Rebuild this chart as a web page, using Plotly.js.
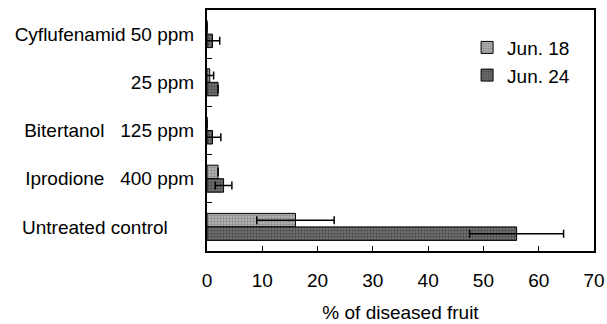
<!DOCTYPE html>
<html>
<head>
<meta charset="utf-8">
<script src="https://cdn.plot.ly/plotly-3.0.1.min.js"></script>
<style>html,body{margin:0;padding:0;background:#fff;}#chart{width:607px;height:324px;}</style>
</head>
<body>
<div id="chart"></div>
<script>
const categories = ["Cyflufenamid 50 ppm", "25 ppm", "Bitertanol\u00a0\u00a0\u00a0125 ppm", "Iprodione\u00a0\u00a0\u00a0400 ppm", "Untreated control\u00a0\u00a0\u00a0\u00a0\u00a0"];
const seriesNames = ["Jun. 18", "Jun. 24"];
const jun18 = [0, 0.5, 0, 2, 16];
const jun18Err = [null, 0.7, null, null, 7];
const jun24 = [1, 2, 1, 3, 56];
const jun24Err = [1.3, null, 1.5, 1.5, 8.5];
const xTicks = [0, 10, 20, 30, 40, 50, 60, 70];

const font = {family: "Liberation Sans, Arial, sans-serif", size: 19, color: "#000"};

function barTrace(name, x, err, bg, fg) {
  return {
    type: "bar", orientation: "h", name: name, x: x, y: categories,
    marker: {color: bg, line: {color: "#000", width: 1},
      pattern: {shape: ".", fgcolor: fg, bgcolor: bg, size: 3, solidity: 0.5}},
    error_x: {type: "data", array: err, visible: true, color: "#000", thickness: 1.5, width: 4}
  };
}

const data = [
  barTrace(seriesNames[0], jun18, jun18Err, "#bdbdbd", "#8a8a8a"),
  barTrace(seriesNames[1], jun24, jun24Err, "#7a7a7a", "#4a4a4a")
];

const layout = {
  width: 607, height: 324,
  margin: {l: 207, r: 13, t: 10, b: 73},
  paper_bgcolor: "#fff", plot_bgcolor: "#fff",
  font: font,
  barmode: "group", bargap: 0.44, bargroupgap: 0,
  showlegend: true,
  legend: {x: 0.672, y: 0.923, xanchor: "left", yanchor: "top", bgcolor: "rgba(0,0,0,0)",
    font: font, tracegroupgap: 0, itemwidth: 30},
  xaxis: {
    range: [0, 70], tickvals: xTicks, ticks: "inside", ticklen: 5, tickwidth: 1, tickcolor: "#000",
    showline: true, linecolor: "#000", linewidth: 2, mirror: true, showgrid: false, zeroline: false,
    ticklabelstandoff: 11, tickfont: font,
    title: {text: "% of diseased fruit", font: font, standoff: 16}
  },
  yaxis: {
    type: "category", autorange: "reversed", ticks: "inside", ticklen: 5, tickcolor: "#000",
    tickson: "boundaries", showline: true, linecolor: "#000", linewidth: 2, mirror: true,
    showgrid: false, zeroline: false, tickfont: font, ticklabelstandoff: 7
  }
};

Plotly.newPlot("chart", data, layout, {displayModeBar: false, staticPlot: true});
</script>
</body>
</html>
